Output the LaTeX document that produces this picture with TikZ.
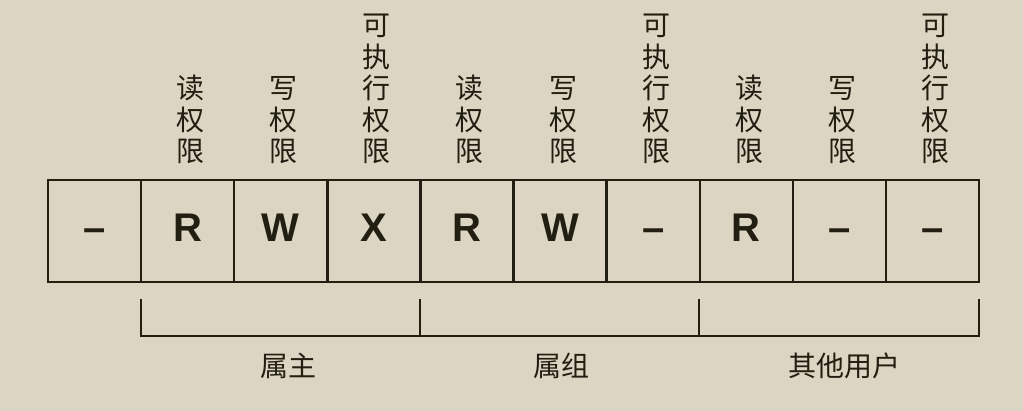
\documentclass[tikz,border=0pt]{standalone}
\usepackage{fontspec}
\setmainfont{Liberation Sans}
\newfontfamily\cjk{Noto Sans CJK SC}
\definecolor{bg}{HTML}{DDD5C3}
\definecolor{ink}{HTML}{231E12}
\begin{document}
\begin{tikzpicture}[x=1pt,y=-1pt,
 cell/.style={draw=ink,line width=2.4pt,minimum width=93.1pt,minimum height=102pt,inner sep=0pt,anchor=center,
   font=\fontsize{40}{40}\selectfont\bfseries,text=ink,text height=22pt,text depth=0pt},
 vlabel/.style={anchor=south,inner sep=0pt,align=center,font=\cjk\fontsize{28}{31.5}\selectfont,text=ink},
 glabel/.style={anchor=center,inner sep=0pt,font=\cjk\fontsize{28}{28}\selectfont,text=ink},
 brk/.style={draw=ink,line width=2pt}]
\fill[bg] (0,0) rectangle (1023,411);
\useasboundingbox (0,0) rectangle (1023,411);
% cells
\foreach \i/\t in {0/–,1/R,2/W,3/X,4/R,5/W,6/–,7/R,8/–,9/–}
  \node[cell] (c\i) at ({94.55+93.1*\i},231) {\t};
% vertical labels
\foreach \i in {1,4,7}
  \node[vlabel] (r\i) at ({97.5+93.1*\i},164) {读\\权\\限};
\foreach \i in {2,5,8}
  \node[vlabel] (w\i) at ({97.5+93.1*\i},164) {写\\权\\限};
\foreach \i in {3,6,9}
  \node[vlabel] (x\i) at ({97.5+93.1*\i},164) {可\\执\\行\\权\\限};
% brackets
\coordinate (k1) at (141,299);
\coordinate (k2) at (420,299);
\coordinate (k3) at (699,299);
\coordinate (k4) at (979,299);
\coordinate (bl) at (141,336);
\coordinate (br) at (979,336);
\draw[brk] (k1) -- (bl) -- (br) -- (k4);
\draw[brk] (k2) -- (k2|-bl);
\draw[brk] (k3) -- (k3|-bl);
% group labels
\node[glabel] (g1) at (288,366) {属主};
\node[glabel] (g2) at (561,366) {属组};
\node[glabel] (g3) at (844,366) {其他用户};
\end{tikzpicture}
\end{document}
